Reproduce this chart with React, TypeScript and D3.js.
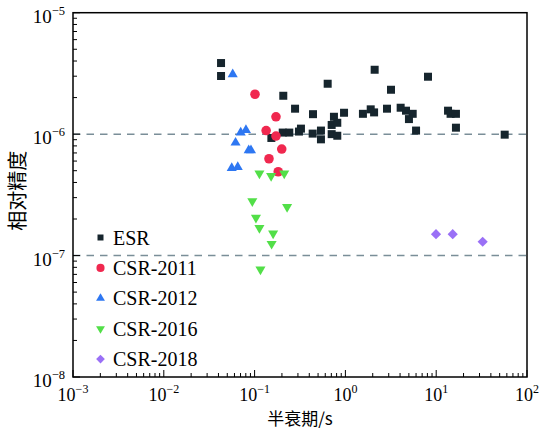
import * as d3 from "d3";
import React, { useEffect } from "react";

// 数据
const esrX = [0.0427, 0.0427, 0.207, 0.279, 0.638, 0.44, 0.748, 0.966, 1.56, 1.9, 2.07, 2.1, 8.12, 3.18, 2.87, 4.06, 4.65, 5.51, 5.01, 6.0, 13.5, 14.4, 16.5, 16.5, 56.8, 0.153, 0.204, 0.241, 0.308, 0.324, 0.436, 0.538, 0.538, 0.706, 0.814, 0.706, 0.814];
const esrY = [3.85e-6, 3.01e-6, 2.07e-6, 1.62e-6, 2.6e-6, 1.46e-6, 1.39e-6, 1.5e-6, 1.47e-6, 1.6e-6, 1.51e-6, 3.39e-6, 2.97e-6, 2.32e-6, 1.62e-6, 1.65e-6, 1.56e-6, 1.47e-6, 1.33e-6, 1.07e-6, 1.56e-6, 1.47e-6, 1.47e-6, 1.13e-6, 0.99e-6, 9.3e-7, 1.03e-6, 1.03e-6, 1.05e-6, 1.11e-6, 1.01e-6, 1.07e-6, 9.06e-7, 1.0e-6, 9.7e-7, 1.19e-6, 1.24e-6];

const csr2011X = [0.101, 0.172, 0.134, 0.172, 0.199, 0.144, 0.182];
const csr2011Y = [2.13e-6, 1.39e-6, 1.07e-6, 9.65e-7, 7.54e-7, 6.27e-7, 4.9e-7];

const csr2012X = [0.0574, 0.0803, 0.0703, 0.0617, 0.0861, 0.0912, 0.056, 0.0652];
const csr2012Y = [3.11e-6, 1.08e-6, 1.03e-6, 8.5e-7, 7.36e-7, 7.36e-7, 5.26e-7, 5.36e-7];

const csr2016X = [0.113, 0.152, 0.212, 0.0944, 0.228, 0.1035, 0.113, 0.16, 0.154, 0.116];
const csr2016Y = [4.75e-7, 4.52e-7, 4.75e-7, 2.81e-7, 2.51e-7, 2.05e-7, 1.69e-7, 1.52e-7, 1.25e-7, 7.7e-8];

const csr2018X = [9.95, 15.2, 32.5];
const csr2018Y = [1.5e-7, 1.5e-7, 1.3e-7];

const xTickExps = [-3, -2, -1, 0, 1, 2];
const yTickExps = [-8, -7, -6, -5];
const refLines = [1e-6, 1e-7];

const serif = "'Liberation Serif', 'Times New Roman', serif";
const cjk = "'Noto Sans CJK SC', sans-serif";

export default function App() {
  useEffect(() => {
    document.body.style.margin = "0";
    const width = 541;
    const height = 432;
    const margin = { top: 12.7, right: 14, bottom: 55, left: 73 };

    d3.selectAll("#chart > *").remove();
    const svg = d3.select("#chart").attr("viewBox", [0, 0, width, height]);

    const x = d3.scaleLog().domain([1e-3, 1e2]).range([margin.left, width - margin.right]);
    const y = d3.scaleLog().domain([1e-8, 1e-5]).range([height - margin.bottom, margin.top]);

    // 参考虚线
    svg
      .append("g")
      .selectAll("line")
      .data(refLines)
      .join("line")
      .attr("x1", x(1e-3))
      .attr("x2", x(1e2))
      .attr("y1", (d) => y(d))
      .attr("y2", (d) => y(d))
      .attr("stroke", "#7a8e98")
      .attr("stroke-width", 1.5)
      .attr("stroke-dasharray", "7.5,6");

    // 刻度（朝内）
    const xMinor = x.ticks();
    const yMinor = y.ticks();
    const isMajor = (v: number) => Math.abs(Math.log10(v) - Math.round(Math.log10(v))) < 1e-6;

    svg
      .append("g")
      .selectAll("line")
      .data(xMinor)
      .join("line")
      .attr("x1", (d) => x(d))
      .attr("x2", (d) => x(d))
      .attr("y1", y(1e-8))
      .attr("y2", (d) => y(1e-8) - (isMajor(d) ? 7 : 4))
      .attr("stroke", "#000")
      .attr("stroke-width", 1);

    svg
      .append("g")
      .selectAll("line")
      .data(yMinor)
      .join("line")
      .attr("y1", (d) => y(d))
      .attr("y2", (d) => y(d))
      .attr("x1", x(1e-3))
      .attr("x2", (d) => x(1e-3) + (isMajor(d) ? 7 : 4))
      .attr("stroke", "#000")
      .attr("stroke-width", 1);

    // 边框
    svg
      .append("rect")
      .attr("x", x(1e-3))
      .attr("y", y(1e-5))
      .attr("width", x(1e2) - x(1e-3))
      .attr("height", y(1e-8) - y(1e-5))
      .attr("fill", "none")
      .attr("stroke", "#000")
      .attr("stroke-width", 1.5);

    // 刻度标签
    const xl = svg
      .append("g")
      .selectAll("text")
      .data(xTickExps)
      .join("text")
      .attr("x", (d) => x(Math.pow(10, d)))
      .attr("y", 401)
      .attr("text-anchor", "middle")
      .attr("font-family", serif)
      .attr("font-size", 18);
    xl.append("tspan").text("10");
    xl.append("tspan")
      .attr("dy", -8)
      .attr("font-size", 12)
      .text((d) => (d < 0 ? "\u2212" + Math.abs(d) : String(d)));

    const yl = svg
      .append("g")
      .selectAll("text")
      .data(yTickExps)
      .join("text")
      .attr("x", x(1e-3) - 8)
      .attr("y", (d) => y(Math.pow(10, d)) + 10)
      .attr("text-anchor", "end")
      .attr("font-family", serif)
      .attr("font-size", 19);
    yl.append("tspan").text("10");
    yl.append("tspan")
      .attr("dy", -8)
      .attr("font-size", 12.5)
      .text((d) => "\u2212" + Math.abs(d));

    // 轴标题
    svg
      .append("text")
      .attr("x", (x(1e-3) + x(1e2)) / 2)
      .attr("y", 425)
      .attr("text-anchor", "middle")
      .attr("font-family", cjk)
      .attr("font-size", 17)
      .text("半衰期/s");

    svg
      .append("text")
      .attr("transform", `translate(25,${(y(1e-5) + y(1e-8)) / 2 - 4}) rotate(-90)`)
      .attr("text-anchor", "middle")
      .attr("font-family", cjk)
      .attr("font-size", 20)
      .text("相对精度");

    // 系列
    const series = [
      { name: "ESR", xs: esrX, ys: esrY, color: "#16252d", type: d3.symbolSquare, size: 64, rot: 0, lsize: 36 },
      { name: "CSR-2011", xs: csr2011X, ys: csr2011Y, color: "#f0284f", type: d3.symbolCircle, size: 72, rot: 0, lsize: 52 },
      { name: "CSR-2012", xs: csr2012X, ys: csr2012Y, color: "#2e77f2", type: d3.symbolTriangle, size: 44, rot: 0, lsize: 34 },
      { name: "CSR-2016", xs: csr2016X, ys: csr2016Y, color: "#52df48", type: d3.symbolTriangle, size: 44, rot: 180, lsize: 34 },
      { name: "CSR-2018", xs: csr2018X, ys: csr2018Y, color: "#9a70f6", type: d3.symbolSquare, size: 52, rot: 45, lsize: 38 },
    ];

    series.forEach((s) => {
      svg
        .append("g")
        .selectAll("path")
        .data(d3.range(s.xs.length))
        .join("path")
        .attr("d", d3.symbol().type(s.type).size(s.size)())
        .attr("transform", (i) => `translate(${x(s.xs[i])},${y(s.ys[i])}) rotate(${s.rot})`)
        .attr("fill", s.color);
    });

    // 图例
    const legend = svg
      .append("g")
      .selectAll("g")
      .data(series)
      .join("g")
      .attr("transform", (_, i) => `translate(100.5,${237.5 + i * 30.4})`);
    legend
      .append("path")
      .attr("d", (s) => d3.symbol().type(s.type).size(s.lsize)())
      .attr("transform", (s) => `rotate(${s.rot})`)
      .attr("fill", (s) => s.color);
    legend
      .append("text")
      .attr("x", 12.5)
      .attr("y", 7)
      .attr("font-family", serif)
      .attr("font-size", 20)
      .text((s) => s.name);
  }, []);

  return <svg id="chart" width={541} height={432} style={{ display: "block" }}></svg>;
}
